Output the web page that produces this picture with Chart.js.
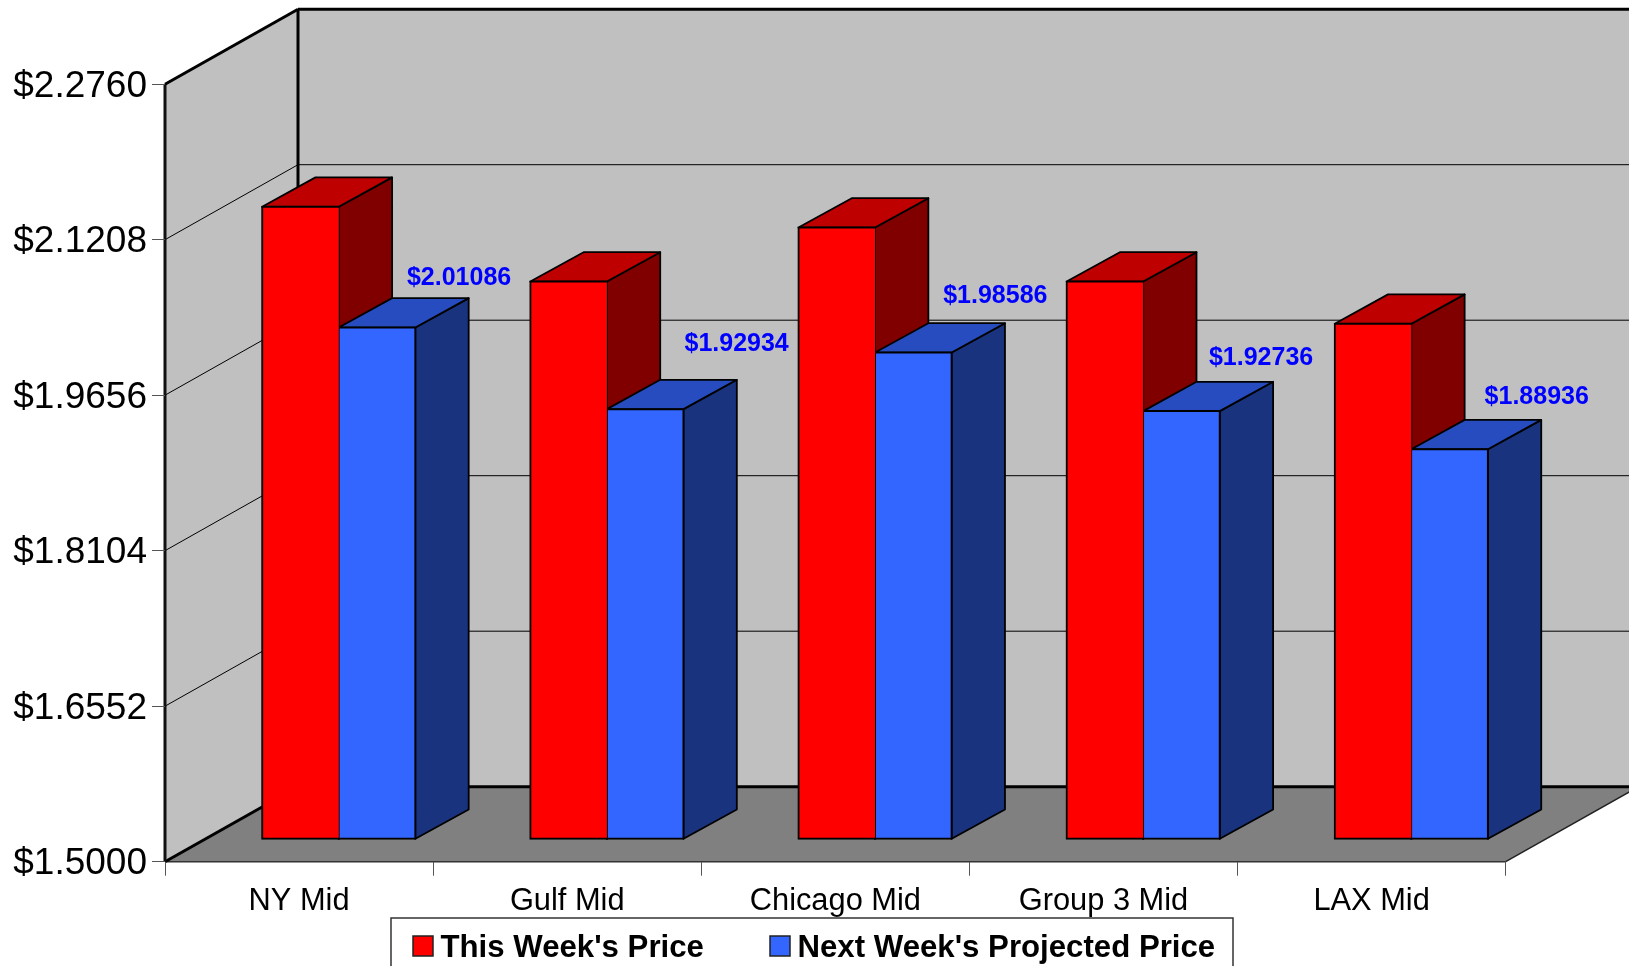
<!DOCTYPE html>
<html>
<head>
<meta charset="utf-8">
<title>Weekly Price Chart</title>
<script src="https://cdn.jsdelivr.net/npm/chart.js@4"></script>
<style>
    html, body { margin: 0; padding: 0; background: #fff; overflow: hidden; }
    canvas { display: block; }
</style>
</head>
<body>
<canvas id="priceChart" width="1629" height="966"></canvas>
<script>
const categories = ['NY Mid', 'Gulf Mid', 'Chicago Mid', 'Group 3 Mid', 'LAX Mid'];
const thisWeekPrice = [2.1314, 2.0567, 2.1106, 2.0567, 2.0146];
const nextWeekPrice = [2.01086, 1.92934, 1.98586, 1.92736, 1.88936];
const yTicks = [1.5, 1.6552, 1.8104, 1.9656, 2.1208, 2.276];

// Moved by hand in the original, relative to the top of each blue bar
const labelOffsets = [[82, -49], [91.4, -65], [82, -56.2], [79.6, -53], [87.1, -51.6]];

const FONT = '"Liberation Sans", Arial, sans-serif';
const wallDepth = { x: 133, y: 75 };    // front plane to back wall
const barFront = { x: 39.7, y: 22.4 };  // front plane to bar front
const barDepth = { x: 53.3, y: 29.3 };

const sideColors = ['#800000', '#19337f'];
const topColors = ['#bf0000', '#264cbf'];

function polygon(ctx, points, fill, stroke, width) {
    ctx.beginPath();
    points.forEach((p, i) => i ? ctx.lineTo(p[0], p[1]) : ctx.moveTo(p[0], p[1]));
    ctx.closePath();
    if (fill) {
        ctx.fillStyle = fill;
        ctx.fill();
    }
    if (stroke) {
        ctx.strokeStyle = stroke;
        ctx.lineWidth = width;
        ctx.stroke();
    }
}

function line(ctx, x1, y1, x2, y2, color, width) {
    ctx.beginPath();
    ctx.moveTo(x1, y1);
    ctx.lineTo(x2, y2);
    ctx.strokeStyle = color;
    ctx.lineWidth = width;
    ctx.stroke();
}

const box3d = {
    id: 'box3d',
    // value axis text sits a little lower than canvas "middle" puts it
    afterLayout(chart) {
        chart.scales.y.getLabelItems(chart.chartArea).forEach(item => {
            item.options.translation[1] += 2.5;
        });
    },
    // walls, floor and gridlines behind everything
    beforeDraw(chart) {
        const ctx = chart.ctx;
        const { left, right, top, bottom } = chart.chartArea;
        const dx = wallDepth.x, dy = wallDepth.y;
        ctx.save();
        ctx.lineJoin = 'miter';
        polygon(ctx, [[left, top], [left + dx, top - dy], [left + dx, bottom - dy], [left, bottom]], '#c0c0c0');
        polygon(ctx, [[left + dx, top - dy], [right + dx, top - dy], [right + dx, bottom - dy], [left + dx, bottom - dy]], '#c0c0c0');
        polygon(ctx, [[left, bottom], [left + dx, bottom - dy], [right + dx, bottom - dy], [right, bottom]], '#808080');

        yTicks.slice(1, -1).forEach(v => {
            const y = chart.scales.y.getPixelForValue(v);
            line(ctx, left, y, left + dx, y - dy, '#000', 1);
            line(ctx, left + dx, y - dy, right + dx, y - dy, '#000', 1);
        });

        line(ctx, left, bottom, right, bottom, '#333', 1.5);
        line(ctx, right, bottom, right + dx, bottom - dy, '#222', 1.5);
        line(ctx, left + dx, bottom - dy, right + dx, bottom - dy, '#000', 3);
        line(ctx, left, bottom, left + dx, bottom - dy, '#000', 3);
        line(ctx, left, top, left, bottom, '#111', 3);
        line(ctx, left, top, left + dx, top - dy, '#000', 3);
        line(ctx, left + dx, top - dy, left + dx, bottom - dy, '#000', 3);
        line(ctx, left + dx, top - dy, right + dx, top - dy, '#000', 3);
        ctx.restore();
    },
    // side and top faces, then leave the canvas shifted for the front faces
    beforeDatasetsDraw(chart) {
        const ctx = chart.ctx;
        ctx.save();
        ctx.translate(barFront.x, -barFront.y);
        ctx.lineJoin = 'round';
        chart.data.datasets.forEach((ds, d) => {
            chart.getDatasetMeta(d).data.forEach(bar => {
                const l = bar.x - bar.width / 2;
                const r = bar.x + bar.width / 2;
                polygon(ctx, [[r, bar.y], [r + barDepth.x, bar.y - barDepth.y],
                    [r + barDepth.x, bar.base - barDepth.y], [r, bar.base]], sideColors[d], '#000', 1.8);
                polygon(ctx, [[l, bar.y], [l + barDepth.x, bar.y - barDepth.y],
                    [r + barDepth.x, bar.y - barDepth.y], [r, bar.y]], topColors[d], '#000', 1.8);
            });
        });
    },
    afterDatasetsDraw(chart) {
        const ctx = chart.ctx;
        ctx.restore();

        // value labels on the blue series only
        ctx.save();
        ctx.font = 'bold 25px ' + FONT;
        ctx.fillStyle = '#0000ff';
        ctx.textAlign = 'center';
        ctx.textBaseline = 'middle';
        chart.getDatasetMeta(1).data.forEach((bar, i) => {
            const x = bar.x + barFront.x + labelOffsets[i][0];
            const y = bar.y - barFront.y + labelOffsets[i][1];
            ctx.fillText('$' + nextWeekPrice[i].toFixed(5), x, y);
        });
        ctx.restore();
    },
    // legend box runs off the bottom of the page, so it is drawn here
    afterDraw(chart) {
        const ctx = chart.ctx;
        ctx.save();
        ctx.strokeStyle = '#333';
        ctx.lineWidth = 1.5;
        ctx.beginPath();
        ctx.moveTo(391, 970);
        ctx.lineTo(391, 918);
        ctx.lineTo(1233, 918);
        ctx.lineTo(1233, 970);
        ctx.stroke();

        ctx.font = 'bold 31.2px ' + FONT;
        ctx.textAlign = 'left';
        ctx.textBaseline = 'middle';
        const swatchX = [413, 770];
        chart.data.datasets.forEach((ds, d) => {
            ctx.fillStyle = ds.backgroundColor;
            ctx.fillRect(swatchX[d], 936, 20, 20);
            ctx.strokeStyle = '#222';
            ctx.strokeRect(swatchX[d], 936, 20, 20);
            ctx.fillStyle = '#000';
            ctx.fillText(ds.label, swatchX[d] + 27.5, 948);
        });
        ctx.restore();
    }
};

const ctx = document.getElementById('priceChart').getContext('2d');
const priceChart = new Chart(ctx, {
    type: 'bar',
    data: {
        labels: categories,
        datasets: [{
            label: "This Week's Price",
            data: thisWeekPrice,
            base: 1.5,
            backgroundColor: '#ff0000',
            borderColor: '#000',
            borderSkipped: false,
            inflateAmount: 1,
            borderWidth: { top: 2, left: 2, right: 1, bottom: 2 }
        }, {
            label: "Next Week's Projected Price",
            data: nextWeekPrice,
            base: 1.5,
            backgroundColor: '#3366ff',
            borderColor: '#000',
            borderSkipped: false,
            inflateAmount: 1,
            borderWidth: { top: 2, left: 1, right: 2, bottom: 2 }
        }]
    },
    options: {
        responsive: false,
        animation: false,
        devicePixelRatio: 1,
        clip: false,
        categoryPercentage: 0.5714,
        barPercentage: 1,
        layout: {
            padding: { top: 84.2, right: 123.3, bottom: 0, left: 0 }
        },
        plugins: {
            legend: { display: false },
            tooltip: { enabled: false }
        },
        scales: {
            x: {
                grid: {
                    offset: true,
                    drawOnChartArea: false,
                    tickLength: 14,
                    tickColor: '#555',
                    tickWidth: 1
                },
                border: { display: false },
                ticks: {
                    color: '#000',
                    padding: 7,
                    maxRotation: 0,
                    font: { family: FONT, size: 30.8 }
                },
                afterFit(scale) {
                    scale.height = 104.3;
                }
            },
            y: {
                min: 1.5,
                max: 2.276,
                afterBuildTicks(scale) {
                    scale.ticks = yTicks.map(v => ({ value: v }));
                },
                grid: {
                    drawOnChartArea: false,
                    tickLength: 13,
                    tickColor: '#555',
                    tickWidth: 1
                },
                border: { display: false },
                ticks: {
                    color: '#000',
                    padding: 5,
                    font: { family: FONT, size: 37 },
                    callback: value => '$' + Number(value).toFixed(4)
                },
                afterFit(scale) {
                    scale.width = 165;
                }
            }
        }
    },
    plugins: [box3d]
});
</script>
</body>
</html>
